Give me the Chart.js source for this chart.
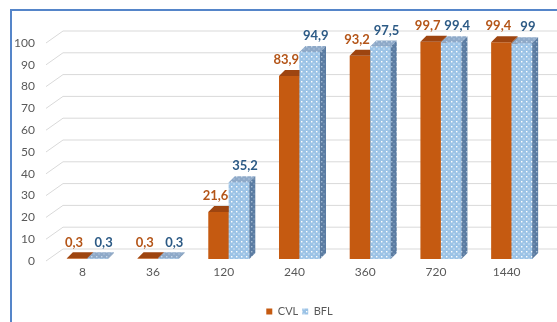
<!DOCTYPE html>
<html>
<head>
<meta charset="utf-8">
<script src="https://cdn.jsdelivr.net/npm/chart.js@4.4.1/dist/chart.umd.min.js"></script>
<style>
  html, body { margin: 0; padding: 0; background: #fff; }
  canvas { display: block; }
</style>
</head>
<body>
<canvas id="chart" width="557" height="322"></canvas>
<script>
// ── Data ─────────────────────────────────────────────
const categories = ['8', '36', '120', '240', '360', '720', '1440'];
const seriesNames = ['CVL', 'BFL'];
const cvlValues = [0.3, 0.3, 21.6, 83.9, 93.2, 99.7, 99.4];
const bflValues = [0.3, 0.3, 35.2, 94.9, 97.5, 99.4, 99];
const yTicks = [0, 10, 20, 30, 40, 50, 60, 70, 80, 90, 100];

// ── Style ────────────────────────────────────────────
const FONT = "Lato, 'Open Sans', sans-serif";
const TEXT = '#595959';
const GRID = '#d9d9d9';
const DEPTH_X = 6;
const DEPTH_Y = 6;

function dotPattern(base, dot) {
    const c = document.createElement('canvas');
    c.width = 5; c.height = 5;
    const g = c.getContext('2d');
    g.fillStyle = base;
    g.fillRect(0, 0, 5, 5);
    g.fillStyle = dot;
    g.fillRect(1, 1, 1.4, 1.4);
    g.fillRect(3.5, 3.5, 1, 1);
    return g.createPattern(c, 'repeat');
}

const ctx0 = document.getElementById('chart').getContext('2d');
const bflFront = dotPattern('#9cc3e6', '#ffffff');
const bflTop = dotPattern('#8ea9c8', '#c9d9ea');
const bflSide = dotPattern('#5b7ca2', '#a9bdd3');

const colors = {
    CVL: { front: '#c55a11', top: '#9e4510', side: '#8f3e0c', label: '#b45518' },
    BFL: { front: bflFront, top: bflTop, side: bflSide, label: '#2c5a85' }
};
const labelShift = { CVL: -3, BFL: 6 };

function fmt(v) {
    return String(v).replace('.', ',');
}

function face(ctx, pts, fill) {
    ctx.beginPath();
    ctx.moveTo(pts[0][0], pts[0][1]);
    for (let i = 1; i < pts.length; i++) ctx.lineTo(pts[i][0], pts[i][1]);
    ctx.closePath();
    ctx.fillStyle = fill;
    ctx.fill();
}

function drawDepth(ctx, bar, col) {
    const l = bar.x - bar.width / 2;
    const r = bar.x + bar.width / 2;
    const t = bar.y;
    const b = bar.base;
    // top face
    face(ctx, [[l, t], [r, t], [r + DEPTH_X, t - DEPTH_Y], [l + DEPTH_X, t - DEPTH_Y]], col.top);
    // side face
    face(ctx, [[r, t], [r + DEPTH_X, t - DEPTH_Y], [r + DEPTH_X, b - DEPTH_Y], [r, b]], col.side);
}

// ── 3D plugin ─────────────────────────────────────────
const excel3d = {
    id: 'excel3d',
    beforeDraw(chart) {
        const ctx = chart.ctx;
        ctx.save();
        ctx.strokeStyle = '#5585c9';
        ctx.lineWidth = 2;
        ctx.beginPath();
        ctx.moveTo(11, chart.height);
        ctx.lineTo(11, 10);
        ctx.lineTo(chart.width, 10);
        ctx.stroke();
        ctx.restore();
    },
    beforeDatasetsDraw(chart) {
        const ctx = chart.ctx;
        const y = chart.scales.y;
        const area = chart.chartArea;
        ctx.save();
        ctx.strokeStyle = GRID;
        ctx.lineWidth = 1;
        yTicks.forEach(v => {
            const py = y.getPixelForValue(v);
            ctx.beginPath();
            ctx.moveTo(area.left - 6, py + 2);
            ctx.lineTo(area.left + 11, py - 10);
            ctx.lineTo(chart.width, py - 10);
            ctx.stroke();
        });
        ctx.restore();
    },
    afterDatasetsDraw(chart) {
        const ctx = chart.ctx;
        const m0 = chart.getDatasetMeta(0);
        const m1 = chart.getDatasetMeta(1);
        ctx.save();
        for (let i = 0; i < categories.length; i++) {
            drawDepth(ctx, m0.data[i], colors.CVL);
            m1.data[i].draw(ctx);
            drawDepth(ctx, m1.data[i], colors.BFL);
        }
        // data labels
        ctx.font = "bold 13px " + FONT;
        ctx.textAlign = 'center';
        ctx.textBaseline = 'middle';
        [m0, m1].forEach((meta, di) => {
            const name = seriesNames[di];
            const vals = di === 0 ? cvlValues : bflValues;
            ctx.fillStyle = colors[name].label;
            meta.data.forEach((bar, i) => {
                ctx.fillText(fmt(vals[i]), bar.x + labelShift[name], bar.y - 16);
            });
        });
        ctx.restore();
    }
};

new Chart(ctx0, {
    type: 'bar',
    data: {
        labels: categories,
        datasets: [
            {
                label: seriesNames[0],
                data: cvlValues,
                backgroundColor: colors.CVL.front,
                borderWidth: 0,
                categoryPercentage: 0.58,
                barPercentage: 1.0
            },
            {
                label: seriesNames[1],
                data: bflValues,
                backgroundColor: colors.BFL.front,
                borderWidth: 0,
                categoryPercentage: 0.58,
                barPercentage: 1.0
            }
        ]
    },
    options: {
        responsive: false,
        devicePixelRatio: 1,
        animation: false,
        layout: { padding: { top: 41, right: 10, bottom: -5, left: 0 } },
        scales: {
            x: {
                grid: { display: false, drawTicks: false },
                border: { display: false },
                ticks: { color: TEXT, font: { family: FONT, size: 12 }, padding: 6, labelOffset: -5 },
                afterFit(scale) { scale.height = 43; }
            },
            y: {
                min: 0,
                max: 100,
                grid: { display: false, drawTicks: false },
                border: { display: false },
                ticks: { stepSize: 10, color: TEXT, font: { family: FONT, size: 12 }, padding: 17, labelOffset: 2 },
                afterFit(scale) { scale.width = 52; }
            }
        },
        plugins: {
            legend: {
                position: 'bottom',
                fullSize: false,
                labels: {
                    color: TEXT,
                    font: { family: FONT, size: 11 },
                    boxWidth: 6,
                    boxHeight: 6,
                    padding: 4
                }
            },
            tooltip: { enabled: false }
        }
    },
    plugins: [excel3d]
});
</script>
</body>
</html>
